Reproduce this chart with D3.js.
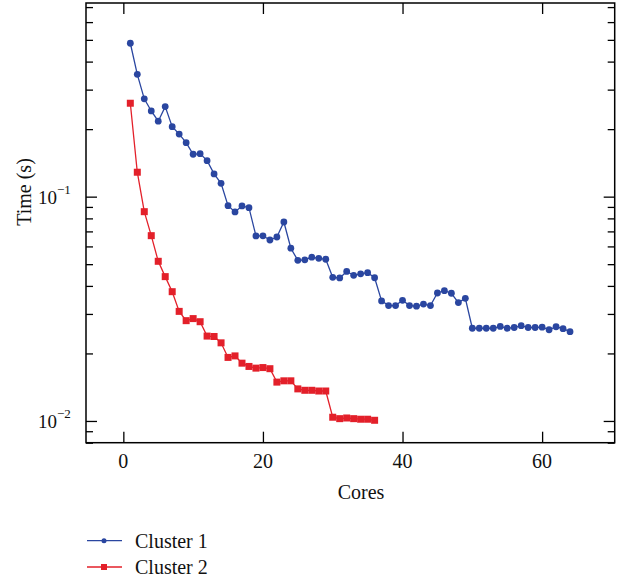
<!DOCTYPE html>
<html>
<head>
<meta charset="utf-8">
<script src="https://cdn.jsdelivr.net/npm/d3@7"></script>
<style>
  body { margin: 0; background: #fff; }
  svg { font-family: "Liberation Serif", "DejaVu Serif", serif; }
</style>
</head>
<body>
<div id="chart"></div>
<script>
// cores 1..64 for cluster 1, 1..36 for cluster 2
const cluster1 = [
  0.483, 0.351, 0.273, 0.241, 0.217, 0.252, 0.205, 0.190, 0.174, 0.1545,
  0.1555, 0.1447, 0.1263, 0.1147, 0.0912, 0.0855, 0.0909, 0.0893, 0.0668, 0.0669,
  0.0641, 0.0661, 0.0771, 0.0589, 0.0520, 0.0523, 0.0537, 0.0531, 0.0526, 0.0437,
  0.0434, 0.0464, 0.0446, 0.0453, 0.0458, 0.0435, 0.0343, 0.0327, 0.0327, 0.0345,
  0.0327, 0.0325, 0.0332, 0.0327, 0.0372, 0.0381, 0.0371, 0.0337, 0.0352, 0.0259,
  0.0259, 0.0259, 0.0259, 0.0264, 0.0259, 0.0261, 0.0266, 0.0261, 0.0261, 0.0262,
  0.0255, 0.0263, 0.0258, 0.0250
];
const cluster2 = [
  0.2609, 0.1285, 0.0857, 0.0670, 0.0515, 0.0440, 0.0377, 0.0308, 0.0280, 0.0286,
  0.0277, 0.0239, 0.0238, 0.0223, 0.0192, 0.0195, 0.0181, 0.0175, 0.0172, 0.0173,
  0.0171, 0.0149, 0.0151, 0.0151, 0.0139, 0.0137, 0.0137, 0.0136, 0.0136, 0.01039,
  0.01024, 0.01031, 0.01024, 0.01018, 0.01018, 0.01007
];
const seriesNames = ["Cluster 1", "Cluster 2"];
const colors = ["#2a46a0", "#e3202a"];
const xTicks = [0, 20, 40, 60];
const yMajor = [0.01, 0.1];

const width = 623, height = 579;
const pLeft = 86, pRight = 614.7, pTop = 3, pBottom = 442.7;

const svg = d3.select("#chart").append("svg").attr("width", width).attr("height", height);

const x = d3.scaleLinear().domain([-5.35, 70.4]).range([pLeft, pRight]);
const y = d3.scaleLog().domain([0.008, 0.73]).range([pBottom, pTop]);

const yMinor = y.ticks().filter(d => !yMajor.some(m => Math.abs(m - d) < 1e-9));

// inward ticks on all four sides
svg.append("g").attr("transform", `translate(0,${pBottom})`)
  .call(d3.axisBottom(x).tickValues(xTicks).tickSizeInner(-11).tickSizeOuter(0).tickFormat(""));
svg.append("g").attr("transform", `translate(0,${pTop})`)
  .call(d3.axisTop(x).tickValues(xTicks).tickSizeInner(-11).tickSizeOuter(0).tickFormat(""));
svg.append("g").attr("transform", `translate(${pLeft},0)`)
  .call(d3.axisLeft(y).tickValues(yMajor).tickSizeInner(-11).tickSizeOuter(0).tickFormat(""));
svg.append("g").attr("transform", `translate(${pLeft},0)`)
  .call(d3.axisLeft(y).tickValues(yMinor).tickSizeInner(-7).tickSizeOuter(0).tickFormat(""));
svg.append("g").attr("transform", `translate(${pRight},0)`)
  .call(d3.axisRight(y).tickValues(yMajor).tickSizeInner(-11).tickSizeOuter(0).tickFormat(""));
svg.append("g").attr("transform", `translate(${pRight},0)`)
  .call(d3.axisRight(y).tickValues(yMinor).tickSizeInner(-7).tickSizeOuter(0).tickFormat(""));
svg.selectAll(".domain").remove();
svg.selectAll(".tick line").attr("stroke", "#000").attr("stroke-width", 1.3);

svg.append("rect").attr("x", pLeft).attr("y", pTop).attr("width", pRight - pLeft).attr("height", pBottom - pTop)
  .attr("fill", "none").attr("stroke", "#000").attr("stroke-width", 1.5);

// tick labels
svg.selectAll(".xl").data(xTicks).enter().append("text")
  .attr("x", d => x(d)).attr("y", 468).attr("text-anchor", "middle")
  .attr("font-size", 20).attr("fill", "#111").text(d => d);

yMajor.forEach(v => {
  const t = svg.append("text").attr("x", 38).attr("y", y(v) + 7).attr("font-size", 19).attr("fill", "#111");
  t.append("tspan").text("10");
  t.append("tspan").attr("dy", -10).attr("font-size", 13).text("\u2212" + Math.round(-Math.log10(v)));
});

svg.append("text").attr("x", 361).attr("y", 499).attr("text-anchor", "middle")
  .attr("font-size", 20).attr("fill", "#111").text("Cores");
svg.append("text").attr("transform", "translate(31,192) rotate(-90)").attr("text-anchor", "middle")
  .attr("font-size", 20).attr("fill", "#111").text("Time (s)");

// series
const line = d3.line().x((d, i) => x(i + 1)).y(d => y(d));
const data = [cluster1, cluster2];

data.forEach((vals, k) => {
  const g = svg.append("g");
  g.append("path").datum(vals).attr("fill", "none").attr("stroke", colors[k]).attr("stroke-width", 1.3).attr("d", line);
  if (k === 0) {
    g.selectAll("circle").data(vals).enter().append("circle")
      .attr("cx", (d, i) => x(i + 1)).attr("cy", d => y(d)).attr("r", 3.4).attr("fill", colors[k]);
  } else {
    g.selectAll("rect").data(vals).enter().append("rect")
      .attr("x", (d, i) => x(i + 1) - 3.5).attr("y", d => y(d) - 3.5)
      .attr("width", 7).attr("height", 7).attr("fill", colors[k]);
  }
});

// legend
const legendY = [540.7, 567];
seriesNames.forEach((name, k) => {
  const ly = legendY[k];
  svg.append("line").attr("x1", 87).attr("x2", 122).attr("y1", ly).attr("y2", ly)
    .attr("stroke", colors[k]).attr("stroke-width", 1.3);
  if (k === 0) {
    svg.append("circle").attr("cx", 104).attr("cy", ly).attr("r", 2.5).attr("fill", colors[k]);
  } else {
    svg.append("rect").attr("x", 101).attr("y", ly - 3).attr("width", 6).attr("height", 6).attr("fill", colors[k]);
  }
  svg.append("text").attr("x", 135).attr("y", ly + 7).attr("font-size", 20).attr("fill", "#111").text(name);
});
</script>
</body>
</html>
